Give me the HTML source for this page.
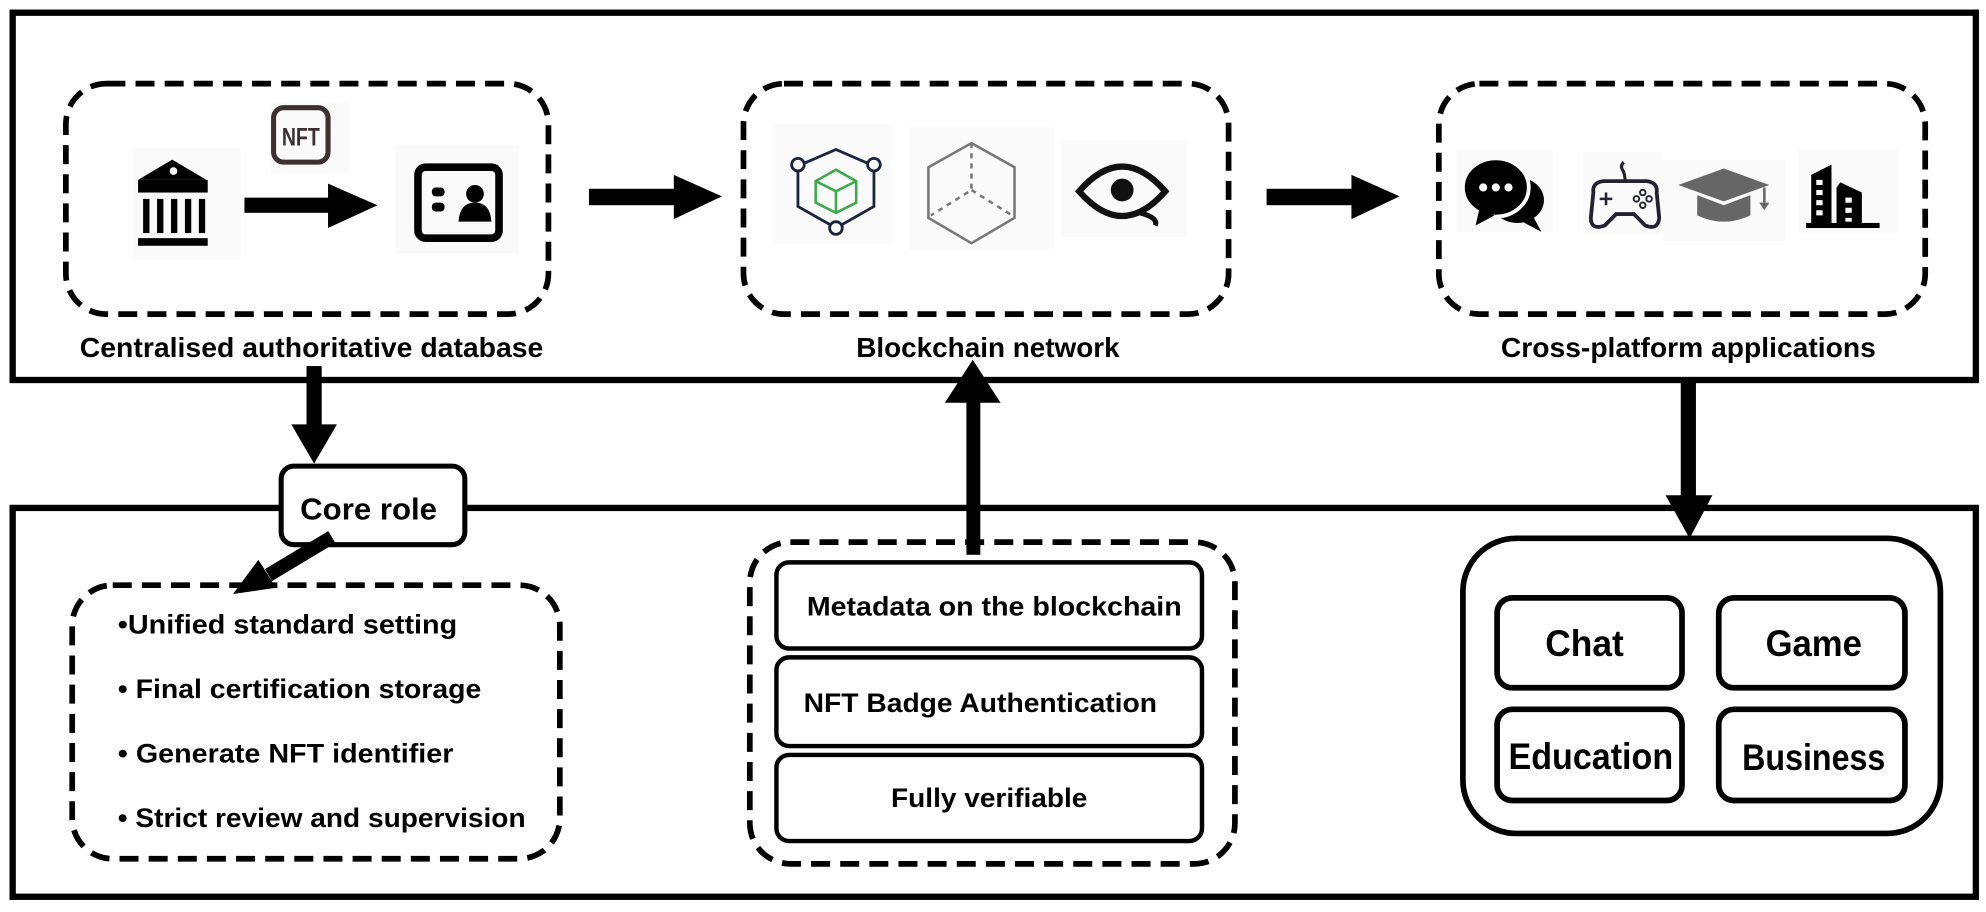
<!DOCTYPE html>
<html><head><meta charset="utf-8"><style>
html,body{margin:0;padding:0;background:#fff;}
svg{display:block;}
text{font-family:"Liberation Sans",sans-serif;font-weight:bold;fill:#000;}
</style></head><body>
<svg width="1986" height="912" viewBox="0 0 1568 720" xmlns="http://www.w3.org/2000/svg">
<rect x="0" y="0" width="1568" height="720" fill="#fff"/>
<rect x="10" y="10" width="1550" height="290" fill="none" stroke="#000" stroke-width="5"/>
<rect x="10" y="401" width="1550" height="307" fill="none" stroke="#000" stroke-width="5"/>

<g fill="none" stroke="#000" stroke-width="4.5" stroke-dasharray="15 8">
<rect x="52" y="66" width="381" height="182" rx="32"/>
<rect x="587" y="66" width="383" height="182" rx="32"/>
<rect x="1136" y="66" width="384" height="182" rx="32"/>
<rect x="57" y="462" width="385" height="216" rx="32"/>
<rect x="592" y="428" width="383" height="254" rx="32"/>
</g>

<rect x="105" y="117" width="85" height="88" fill="#fafafa"/>
<path d="M136,126 L163,142 L109,142 Z" fill="#000"/>
<rect x="109" y="142" width="55" height="10" fill="#000"/>
<circle cx="137" cy="135" r="3" fill="#fff"/>
<g fill="#000"><rect x="113" y="157" width="5" height="27"/><rect x="124" y="157" width="5" height="27"/><rect x="135" y="157" width="5" height="27"/><rect x="146" y="157" width="5" height="27"/><rect x="157" y="157" width="5" height="27"/><rect x="109" y="188" width="55" height="6"/></g>
<rect x="214" y="81" width="62" height="56" fill="#fafafa"/>
<rect x="216" y="85" width="43" height="43" rx="8" fill="none" stroke="#3d3030" stroke-width="4"/>
<text x="237.5" y="115" font-size="20" text-anchor="middle" style="fill:#3d3030" textLength="30" lengthAdjust="spacingAndGlyphs">NFT</text>
<rect x="193" y="156" width="68" height="12" fill="#000"/>
<path d="M259,145 L298,162 L259,180 Z" fill="#000"/>
<rect x="312" y="115" width="98" height="85" fill="#fafafa"/>
<rect x="330" y="132" width="64" height="56" rx="6" fill="none" stroke="#000" stroke-width="6"/>
<rect x="341" y="148" width="10" height="7" rx="3" fill="#000"/>
<rect x="341" y="160" width="10" height="7" rx="3" fill="#000"/>
<circle cx="375" cy="153" r="7" fill="#000"/>
<path d="M362,175 Q363,160 375,160 Q387,160 388,175 Z" fill="#000"/>
<text x="246" y="282" font-size="22" text-anchor="middle" textLength="366" lengthAdjust="spacingAndGlyphs">Centralised authoritative database</text>

<rect x="465" y="149" width="68" height="13" fill="#000"/>
<path d="M532,138 L570,155 L532,173 Z" fill="#000"/>

<rect x="610" y="98" width="94" height="95" fill="#fafafa"/>
<path d="M660,118 L690,131 L690,163 L660,180 L630,163 L630,131 Z" fill="none" stroke="#1a2440" stroke-width="2.2"/>
<circle cx="630" cy="130" r="5" fill="#fff" stroke="#1a2440" stroke-width="2.2"/>
<circle cx="690" cy="130" r="5" fill="#fff" stroke="#1a2440" stroke-width="2.2"/>
<circle cx="660" cy="180" r="5" fill="#fff" stroke="#1a2440" stroke-width="2.2"/>
<path d="M660,134 L676,143 L676,160 L660,168 L644,160 L644,143 Z M644,143 L660,151 L676,143 M660,151 L660,168" fill="none" stroke="#3aaa4a" stroke-width="2"/>
<rect x="718" y="100" width="114" height="98" fill="#fafafa"/>
<path d="M767,113 L801,132 L801,172 L767,192 L733,172 L733,132 Z" fill="none" stroke="#777" stroke-width="2"/>
<path d="M767,113 L767,150 L735,170 M767,150 L799,170" fill="none" stroke="#777" stroke-width="2" stroke-dasharray="4 4"/>
<rect x="838" y="110" width="99" height="77" fill="#fafafa"/>
<path d="M852,151 Q886,112 920,151 Q886,190 852,151 Z" fill="none" stroke="#111" stroke-width="5"/>
<circle cx="886" cy="150" r="9" fill="#111"/>
<path d="M900,168 Q915,172 912,178" fill="none" stroke="#111" stroke-width="4"/>
<text x="780" y="282" font-size="22" text-anchor="middle" textLength="208" lengthAdjust="spacingAndGlyphs">Blockchain network</text>

<rect x="1000" y="149" width="68" height="13" fill="#000"/>
<path d="M1067,138 L1105,155 L1067,173 Z" fill="#000"/>

<rect x="1150" y="118" width="76" height="65" fill="#fafafa"/>
<ellipse cx="1198" cy="158" rx="21" ry="18" fill="#000"/>
<path d="M1210,170 L1217,183 L1200,174 Z" fill="#000"/>
<ellipse cx="1181" cy="148" rx="26" ry="23" fill="#000" stroke="#fafafa" stroke-width="3"/>
<path d="M1168,165 L1165,178 L1180,170 Z" fill="#000"/>
<g fill="#fff"><circle cx="1171" cy="148" r="3.2"/><circle cx="1181" cy="148" r="3.2"/><circle cx="1191" cy="148" r="3.2"/></g>
<rect x="1250" y="120" width="62" height="65" fill="#fafafa"/>
<path d="M1258,152 Q1257,144 1266,143 L1300,143 Q1309,144 1308,152 L1310,172 Q1309,182 1299,178 L1290,169 L1276,169 L1267,178 Q1256,182 1256,172 Z" fill="none" stroke="#222232" stroke-width="3"/>
<path d="M1283,143 Q1283,137 1281,134 Q1279,131 1282,128" fill="none" stroke="#222232" stroke-width="2.5"/>
<path d="M1263,157 L1273,157 M1268,152 L1268,162" stroke="#222232" stroke-width="2"/>
<g fill="none" stroke="#222232" stroke-width="1.5"><circle cx="1297" cy="152" r="2.2"/><circle cx="1292" cy="157" r="2.2"/><circle cx="1302" cy="157" r="2.2"/><circle cx="1297" cy="162" r="2.2"/></g>
<rect x="1312" y="126" width="98" height="64" fill="#fafafa"/>
<path d="M1325,146 L1361,133 L1397,146 L1361,159 Z" fill="#666"/>
<path d="M1340,154 L1340,170 Q1361,180 1382,170 L1382,154 L1361,162 Z" fill="#666"/>
<path d="M1393,148 L1393,160" stroke="#666" stroke-width="2"/>
<path d="M1389,160 L1397,160 L1393,166 Z" fill="#666"/>
<rect x="1420" y="118" width="78" height="66" fill="#fafafa"/>
<path d="M1430,138 L1446,130 L1446,178 L1430,178 Z" fill="#000"/>
<path d="M1450,148 L1453,144 L1470,152 L1470,178 L1450,178 Z" fill="#000"/>
<rect x="1426" y="176" width="58" height="4" fill="#000"/>
<g fill="#fff"><rect x="1434" y="142" width="5" height="4"/><rect x="1434" y="150" width="5" height="4"/><rect x="1434" y="158" width="5" height="4"/><rect x="1434" y="166" width="5" height="4"/><rect x="1457" y="156" width="5" height="4"/><rect x="1457" y="164" width="5" height="4"/><rect x="1457" y="172" width="5" height="3"/></g>
<text x="1333" y="282" font-size="22" text-anchor="middle" textLength="296" lengthAdjust="spacingAndGlyphs">Cross-platform applications</text>

<rect x="242" y="289" width="12" height="48" fill="#000"/>
<path d="M230,335 L266,335 L248,366 Z" fill="#000"/>
<rect x="222" y="368" width="145" height="62" rx="10" fill="#fff" stroke="#000" stroke-width="4"/>
<text x="291" y="410" font-size="24" text-anchor="middle" textLength="108" lengthAdjust="spacingAndGlyphs">Core role</text>
<path d="M262,424 L212,454" stroke="#000" stroke-width="11"/>
<path d="M204,442 L184,469 L218,464 Z" fill="#000"/>
<g font-size="21">
<text x="93" y="500" textLength="268" lengthAdjust="spacingAndGlyphs">•Unified standard setting</text>
<text x="93" y="551" textLength="287" lengthAdjust="spacingAndGlyphs">• Final certification storage</text>
<text x="93" y="602" textLength="265" lengthAdjust="spacingAndGlyphs">• Generate NFT identifier</text>
<text x="93" y="653" textLength="322" lengthAdjust="spacingAndGlyphs">• Strict review and supervision</text>
</g>

<rect x="763" y="316" width="11" height="122" fill="#000"/>
<path d="M746,318 L790,318 L768,284 Z" fill="#000"/>
<g fill="#fff" stroke="#000" stroke-width="3.5">
<rect x="613" y="444" width="336" height="68" rx="10"/>
<rect x="613" y="519" width="336" height="70" rx="10"/>
<rect x="613" y="596" width="336" height="68" rx="10"/>
</g>
<g font-size="21" text-anchor="middle">
<text x="785" y="486" textLength="296" lengthAdjust="spacingAndGlyphs">Metadata on the blockchain</text>
<text x="774" y="562" textLength="279" lengthAdjust="spacingAndGlyphs">NFT Badge Authentication</text>
<text x="781" y="637" textLength="155" lengthAdjust="spacingAndGlyphs">Fully verifiable</text>
</g>

<rect x="1327" y="300" width="12" height="94" fill="#000"/>
<path d="M1315,391 L1352,391 L1334,425 Z" fill="#000"/>
<rect x="1155" y="425" width="377" height="233" rx="42" fill="none" stroke="#000" stroke-width="4.5"/>
<g fill="#fff" stroke="#000" stroke-width="4.5">
<rect x="1182" y="472" width="146" height="71" rx="12"/>
<rect x="1357" y="472" width="147" height="71" rx="12"/>
<rect x="1182" y="560" width="146" height="72" rx="12"/>
<rect x="1357" y="560" width="147" height="72" rx="12"/>
</g>
<g font-size="29" text-anchor="middle">
<text x="1251" y="518" textLength="62" lengthAdjust="spacingAndGlyphs">Chat</text>
<text x="1432" y="518" textLength="76" lengthAdjust="spacingAndGlyphs">Game</text>
<text x="1256" y="607" textLength="130" lengthAdjust="spacingAndGlyphs">Education</text>
<text x="1432" y="608" textLength="113" lengthAdjust="spacingAndGlyphs">Business</text>
</g>
</svg>
</body></html>
